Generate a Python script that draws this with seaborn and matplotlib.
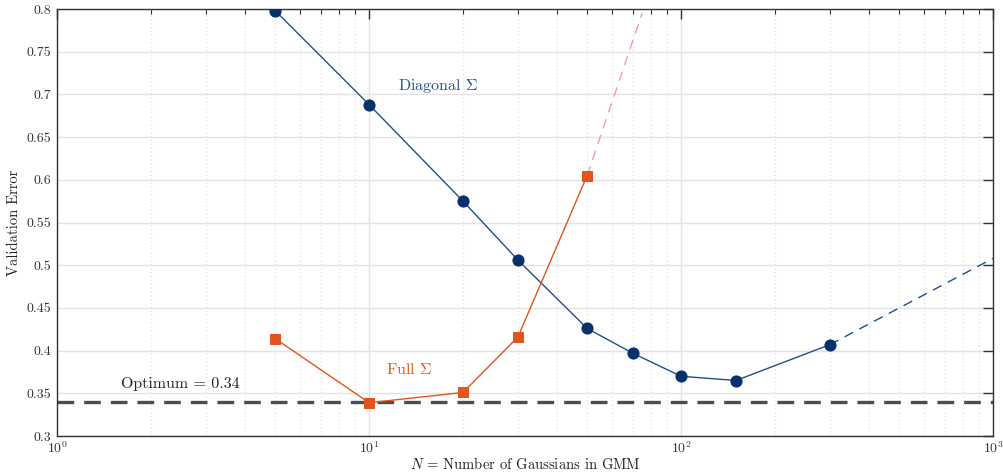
import pandas as pd
import matplotlib
matplotlib.use("Agg")
import matplotlib.pyplot as plt
import seaborn as sns

# data
diag_n = [5, 10, 20, 30, 50, 70, 100, 150, 300]
diag_err = [0.798, 0.688, 0.575, 0.506, 0.426, 0.397, 0.370, 0.365, 0.407]
diag_ext_n = [300, 1000]
diag_ext_err = [0.407, 0.508]

full_n = [5, 10, 20, 30, 50]
full_err = [0.414, 0.339, 0.351, 0.416, 0.605]
full_ext_n = [50, 75]
full_ext_err = [0.605, 0.795]

optimum = 0.34
y_ticks = [0.3, 0.35, 0.4, 0.45, 0.5, 0.55, 0.6, 0.65, 0.7, 0.75, 0.8]
y_tick_labels = ["0.3", "0.35", "0.4", "0.45", "0.5", "0.55", "0.6", "0.65", "0.7", "0.75", "0.8"]

blue = "#1f4f8f"
blue_dark = "#08306b"
orange = "#e0561c"
salmon = "#f4a09a"

sns.set_style("white")
plt.rcParams["font.family"] = ["cmr10", "DejaVu Serif"]
plt.rcParams["mathtext.fontset"] = "cm"
plt.rcParams["axes.unicode_minus"] = False
plt.rcParams["axes.formatter.use_mathtext"] = True

diag_df = pd.DataFrame({"N": diag_n, "err": diag_err})
full_df = pd.DataFrame({"N": full_n, "err": full_err})
diag_ext = pd.DataFrame({"N": diag_ext_n, "err": diag_ext_err})
full_ext = pd.DataFrame({"N": full_ext_n, "err": full_ext_err})

fig = plt.figure(figsize=(10.04, 4.76), dpi=100)
ax = fig.add_axes([0.057, 0.084, 0.932, 0.897])

ax.set_xscale("log")
ax.set_xlim(1, 1000)
ax.set_ylim(0.3, 0.8)

# grid
ax.grid(which="major", axis="both", color="#e3e3e3", linewidth=1.0, linestyle="-")
ax.grid(which="minor", axis="x", color="#dadada", linewidth=0.8, linestyle=(0, (1, 2.5)))
ax.set_axisbelow(True)

# optimum line
ax.axhline(optimum, color="#4d4d4d", linewidth=2.4, linestyle=(0, (5, 3)), zorder=2)

# extensions
sns.lineplot(data=diag_ext, x="N", y="err", ax=ax, color=blue, linewidth=1.0,
             linestyle=(0, (7, 5)), zorder=3)
sns.lineplot(data=full_ext, x="N", y="err", ax=ax, color=salmon, linewidth=1.0,
             linestyle=(0, (7, 5)), zorder=3)

# main series
sns.lineplot(data=diag_df, x="N", y="err", ax=ax, color=blue, linewidth=1.0,
             marker="o", markersize=8, markerfacecolor=blue_dark,
             markeredgecolor=blue_dark, zorder=4)
sns.lineplot(data=full_df, x="N", y="err", ax=ax, color=orange, linewidth=1.0,
             marker="s", markersize=6.5, markerfacecolor=orange,
             markeredgecolor=orange, zorder=4)

# annotations
ax.text(12.4, 0.71, r"Diagonal $\Sigma$", color=blue, fontsize=11.5, va="center", ha="left")
ax.text(11.3, 0.378, r"Full $\Sigma$", color=orange, fontsize=11.5, va="center", ha="left")
ax.text(1.6, 0.361, "Optimum = 0.34", color="#222222", fontsize=11.5, va="center", ha="left")

ax.set_yticks(y_ticks)
ax.set_yticklabels(y_tick_labels)
ax.tick_params(which="both", direction="in", top=True, right=True, labelsize=10,
               colors="#333333", labelcolor="#333333")
ax.tick_params(which="major", length=7, width=1.0)
ax.tick_params(which="minor", length=3.5, width=0.8)
ax.tick_params(axis="x", which="major", pad=3)
ax.tick_params(axis="y", which="major", pad=4)
for s in ax.spines.values():
    s.set_color("#333333")
    s.set_linewidth(1.0)

ax.set_xlabel(r"$N$ = Number of Gaussians in GMM", fontsize=10.5, color="#222222", labelpad=0)
ax.set_ylabel("Validation Error", fontsize=10.5, color="#222222", labelpad=4)

fig.savefig("out.png", dpi=100)
